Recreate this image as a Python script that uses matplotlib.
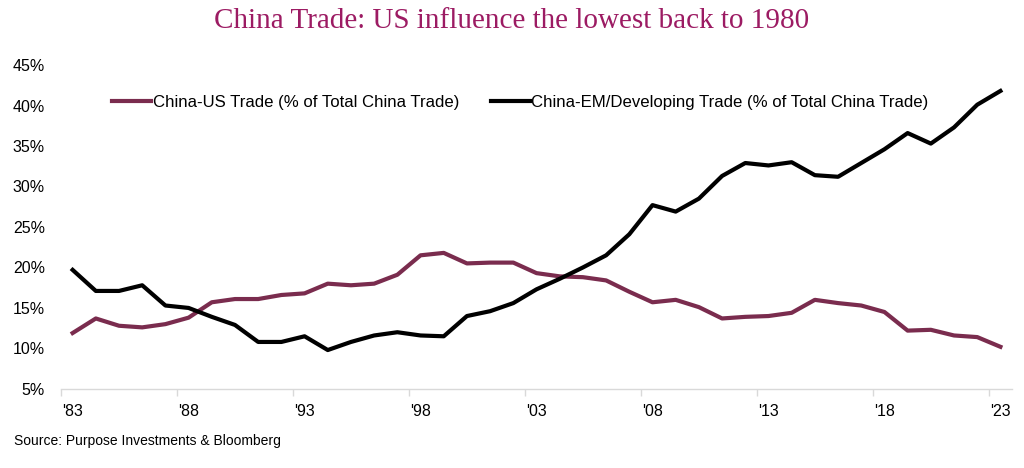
import matplotlib
matplotlib.use('Agg')
import matplotlib.pyplot as plt
from matplotlib.ticker import FixedLocator, FuncFormatter

# annual data, 1983-2023
years = list(range(1983, 2024))

# China-US trade, % of total China trade
us_trade = [11.9, 13.7, 12.8, 12.6, 13.0, 13.8, 15.7, 16.1, 16.1, 16.6,
            16.8, 18.0, 17.8, 18.0, 19.1, 21.5, 21.8, 20.5, 20.6, 20.6,
            19.3, 18.9, 18.8, 18.4, 17.0, 15.7, 16.0, 15.1, 13.7, 13.9,
            14.0, 14.4, 16.0, 15.6, 15.3, 14.5, 12.2, 12.3, 11.6, 11.4,
            10.2]

# China-EM/developing trade, % of total China trade
em_trade = [19.7, 17.1, 17.1, 17.8, 15.3, 15.0, 13.9, 12.9, 10.8, 10.8,
            11.5, 9.8, 10.8, 11.6, 12.0, 11.6, 11.5, 14.0, 14.6, 15.6,
            17.3, 18.6, 20.0, 21.5, 24.1, 27.7, 26.9, 28.5, 31.3, 32.9,
            32.6, 33.0, 31.4, 31.2, 32.9, 34.6, 36.6, 35.3, 37.3, 40.1,
            41.8]

tick_years = [1983, 1988, 1993, 1998, 2003, 2008, 2013, 2018, 2023]
y_ticks = [5, 10, 15, 20, 25, 30, 35, 40, 45]

us_color = '#7A2C4E'
em_color = '#000000'
title_color = '#9C1B63'
axis_gray = '#D9D9D9'

plt.rcParams['font.family'] = ['Liberation Sans', 'DejaVu Sans']

fig = plt.figure(figsize=(10.24, 4.68), dpi=100)
ax = fig.add_axes([0.0596, 0.169, 0.9287, 0.692])

ax.plot(years, us_trade, color=us_color, lw=3.0,
        label='China-US Trade (% of Total China Trade)', solid_joinstyle='round')
ax.plot(years, em_trade, color=em_color, lw=3.0,
        label='China-EM/Developing Trade (% of Total China Trade)', solid_joinstyle='round')

ax.set_xlim(years[0] - 0.5, years[-1] + 0.5)
ax.set_ylim(5, 45)

# tick marks sit on category boundaries, labels at category centres
ax.xaxis.set_major_locator(FixedLocator([y - 0.5 for y in tick_years]))
ax.xaxis.set_major_formatter(FuncFormatter(lambda v, p: ''))
ax.xaxis.set_minor_locator(FixedLocator(tick_years))
ax.xaxis.set_minor_formatter(FuncFormatter(lambda v, p: "'%02d" % (int(round(v)) % 100)))
ax.tick_params(axis='x', which='major', length=5, color=axis_gray, width=1)
ax.tick_params(axis='x', which='minor', length=0, pad=11, labelsize=11.5)

ax.set_yticks(y_ticks)
ax.yaxis.set_major_formatter(FuncFormatter(lambda v, p: '%d%%' % v))
ax.tick_params(axis='y', length=0, pad=11.5, labelsize=11.5)

for s in ['top', 'right', 'left']:
    ax.spines[s].set_visible(False)
ax.spines['bottom'].set_color(axis_gray)
ax.spines['bottom'].set_linewidth(1)

ax.legend(loc='upper center', bbox_to_anchor=(0.483, 0.955), ncol=2, frameon=False,
          fontsize=12.1, handlelength=2.3, handletextpad=0.1, columnspacing=1.9)

fig.text(0.5, 0.955, 'China Trade: US influence the lowest back to 1980',
         ha='center', va='center', fontsize=21, color=title_color,
         family=['Liberation Serif', 'DejaVu Serif'])
fig.text(0.014, 0.057, 'Source: Purpose Investments & Bloomberg',
         ha='left', va='center', fontsize=10, color='#000000')

fig.savefig('out.png', dpi=100)
